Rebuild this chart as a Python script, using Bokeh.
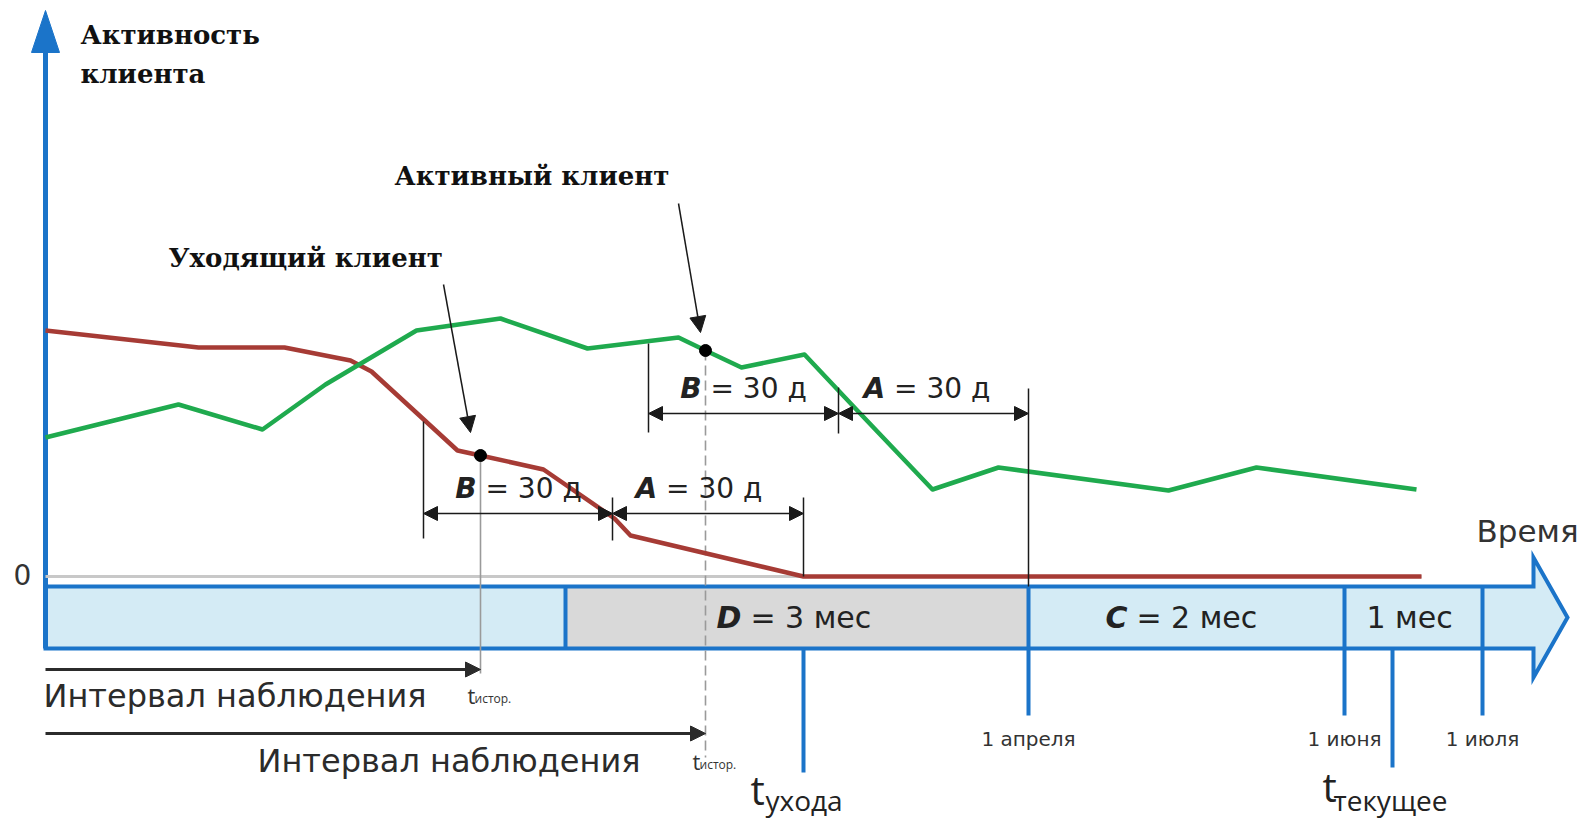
from bokeh.plotting import figure
from bokeh.models import Range1d, Arrow, NormalHead, ColumnDataSource
from bokeh.embed import file_html
from bokeh.resources import INLINE
from bokeh.core.properties import value

# ---- data: schematic time position (horizontal) and activity level above zero ----
leaving_t = [45, 198, 284, 350, 371, 457, 480, 543, 614, 630, 803, 1421]
leaving_act = [246, 229, 229, 216, 205, 126, 121, 107, 58, 41, 0, 0]

active_t = [45, 178, 262, 325, 416, 500, 587, 678, 705, 741, 804, 853, 932, 998, 1168, 1256, 1416]
active_act = [139, 172, 147, 192, 246, 258, 228, 239, 226, 209, 222, 170, 87, 109, 86, 109, 87]

# moments of history snapshot (t_истор.) for the two clients
hist_t = [480, 705]
hist_act = [121, 226]

# B / A windows (30 days each) for the leaving and active client
leave_win = [423, 612, 803]
active_win = [648, 838, 1028]

# calendar marks on the time axis
month_t = [1028, 1344, 1482]
month_labels = ["1 апреля", "1 июня", "1 июля"]
d_start = 565          # start of D period
churn_t = 803          # t_ухода
now_t = 1392           # t_текущее

# ---- styling ----
BLUE = "#1b74c9"
LIGHT = "#d4ebf5"
GREY_FILL = "#d9d9d9"
RED = "#a63b35"
GREEN = "#1faa4e"
INK = "#1a1a1a"
SANS = value("DejaVu Sans")
SERIF = value("DejaVu Serif")
OPEN = value("Open Sans")

AX = 45
BAND_TOP, BAND_BOT, BAND_MID = -10, -72, -41
HEAD_BASE, HEAD_TIP, HEAD_TOP, HEAD_BOT = 1533, 1567, 19, -101

p = figure(width=1592, height=826, x_range=Range1d(0, 1592), y_range=Range1d(-250, 576),
           output_backend="svg", toolbar_location=None, min_border=0,
           x_axis_type=None, y_axis_type=None)
p.grid.visible = False
p.outline_line_color = None
p.background_fill_color = "white"

# time axis band with arrow head
band_x = [AX, HEAD_BASE, HEAD_BASE, HEAD_TIP, HEAD_BASE, HEAD_BASE, AX]
band_y = [BAND_TOP, BAND_TOP, HEAD_TOP, BAND_MID, HEAD_BOT, BAND_BOT, BAND_BOT]
p.patch(band_x, band_y, fill_color=LIGHT, line_color=None)
p.quad(left=d_start, right=month_t[0], top=BAND_TOP, bottom=BAND_BOT,
       fill_color=GREY_FILL, line_color=None)
p.patch(band_x, band_y, fill_color=None, line_color=BLUE, line_width=4, line_join="miter")

# band dividers and ticks
p.segment(x0=[d_start], y0=[BAND_TOP], x1=[d_start], y1=[BAND_BOT], line_color=BLUE, line_width=4)
p.segment(x0=month_t, y0=[BAND_TOP] * 3, x1=month_t, y1=[-139] * 3, line_color=BLUE, line_width=4)
p.segment(x0=[churn_t, now_t], y0=[BAND_BOT] * 2, x1=[churn_t, now_t], y1=[-196, -191],
          line_color=BLUE, line_width=4)

# vertical activity axis
p.segment(x0=[AX], y0=[BAND_BOT], x1=[AX], y1=[530], line_color=BLUE, line_width=5)
p.patch([AX - 14, AX + 14, AX], [524, 524, 566], fill_color=BLUE, line_color=BLUE)

# zero level
p.segment(x0=[AX], y0=[0], x1=[leaving_t[-1]], y1=[0], line_color="#c8c8c8", line_width=3)

# history guide lines
p.segment(x0=[hist_t[0]], y0=[hist_act[0]], x1=[hist_t[0]], y1=[-97],
          line_color="#9a9a9a", line_width=1.6)
p.segment(x0=[hist_t[1]], y0=[hist_act[1]], x1=[hist_t[1]], y1=[-181],
          line_color="#9a9a9a", line_width=1.6, line_dash="10 5")

# activity curves
p.line(leaving_t, leaving_act, line_color=RED, line_width=4.5, line_join="round")
p.line(active_t, active_act, line_color=GREEN, line_width=4.5, line_join="round")
p.scatter(hist_t, hist_act, size=12, color="black")

# window ticks
p.segment(x0=leave_win, y0=[155, 79, 79], x1=leave_win, y1=[38, 36, 0],
          line_color=INK, line_width=1.5)
p.segment(x0=active_win, y0=[233, 189, 188], x1=active_win, y1=[144, 143, BAND_TOP],
          line_color=INK, line_width=1.5)

# window dimension arrows
dim_y = [63, 63, 163, 163]
dim = ColumnDataSource(dict(
    x0=[leave_win[0], leave_win[1], active_win[0], active_win[1]],
    x1=[leave_win[1], leave_win[2], active_win[1], active_win[2]],
    y=dim_y))
p.add_layout(Arrow(x_start="x0", y_start="y", x_end="x1", y_end="y", source=dim,
                   line_color=INK, line_width=1.5,
                   start=NormalHead(size=14, fill_color=INK, line_color=INK),
                   end=NormalHead(size=14, fill_color=INK, line_color=INK)))

# observation interval arrows
obs = ColumnDataSource(dict(x0=[AX, AX], x1=hist_t, y=[-93, -157]))
p.add_layout(Arrow(x_start="x0", y_start="y", x_end="x1", y_end="y", source=obs,
                   line_color="#2b2b2b", line_width=3,
                   end=NormalHead(size=15, fill_color="#2b2b2b", line_color="#2b2b2b")))

# callout arrows
call = ColumnDataSource(dict(x0=[443, 678], y0=[292, 373], x1=[470, 700], y1=[144, 244]))
p.add_layout(Arrow(x_start="x0", y_start="y0", x_end="x1", y_end="y1", source=call,
                   line_color=INK, line_width=1.5,
                   end=NormalHead(size=16, fill_color=INK, line_color=INK)))


def txt(x, y, s, font, size, align="left", style="normal", color="#222222"):
    p.text(x=[x], y=[y], text=[s], text_font=font, text_font_size=f"{size}px",
           text_align=align, text_baseline="middle", text_font_style=style,
           text_color=color)


# titles (serif bold)
txt(80, 542, "Активность", SERIF, 26, style="bold", color="#111111")
txt(80, 503, "клиента", SERIF, 26, style="bold", color="#111111")
txt(394, 401, "Активный клиент", SERIF, 26, style="bold", color="#111111")
txt(168, 319, "Уходящий клиент", SERIF, 26, style="bold", color="#111111")

txt(22, 2, "0", SANS, 28, align="center", color="#333333")
txt(1476, 46, "Время", SANS, 31, color="#333333")

# window labels
DS = 28
GAP = 9
for split, ylab in [(476, 88), (701, 188)]:
    txt(split, ylab, "B", SANS, DS, align="right", style="bold italic")
    txt(split + GAP, ylab, "= 30 д", SANS, DS)
for start, ylab in [(635, 88), (863, 188)]:
    txt(start, ylab, "A", SANS, DS, style="bold italic")
    txt(start + 0.77 * DS + GAP, ylab, "= 30 д", SANS, DS)

# band labels
BS = 30
txt(716, BAND_MID, "D", SANS, BS, style="bold italic")
txt(716 + 0.83 * BS + GAP, BAND_MID, "= 3 мес", SANS, BS)
txt(1105, BAND_MID, "C", SANS, BS, style="bold italic")
txt(1105 + 0.73 * BS + GAP, BAND_MID, "= 2 мес", SANS, BS)
txt(1366, BAND_MID, "1 мес", SANS, BS)

# calendar labels
for mt, lab in zip(month_t, month_labels):
    txt(mt, -162, lab, SANS, 20, align="center", color="#333333")

# observation intervals
txt(43, -119, "Интервал наблюдения", SANS, 32, color="#2b2b2b")
txt(640, -184, "Интервал наблюдения", SANS, 32, align="right", color="#2b2b2b")

# moment labels
txt(hist_t[0] - 13, -118, "t", OPEN, 22, color="#333333")
txt(hist_t[0] - 6, -122, "истор.", OPEN, 12, color="#333333")
txt(hist_t[1] - 13, -184, "t", OPEN, 22, color="#333333")
txt(hist_t[1] - 6, -188, "истор.", OPEN, 12, color="#333333")
txt(churn_t - 53, -213, "t", OPEN, 40, color="#222222")
txt(churn_t - 38, -223, "ухода", OPEN, 28, color="#222222")
txt(now_t - 70, -210, "t", OPEN, 40, color="#222222")
txt(now_t - 59, -223, "текущее", OPEN, 28, color="#222222")

open("out.html", "w").write(file_html(p, INLINE))
